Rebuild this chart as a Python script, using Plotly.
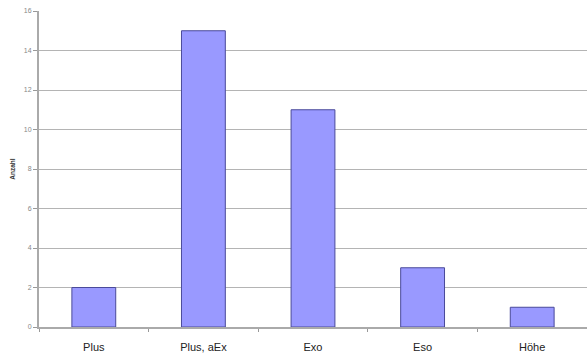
import plotly.graph_objects as go

categories = ["Plus", "Plus, aEx", "Exo", "Eso", "Höhe"]
values = [2, 15, 11, 3, 1]
y_ticks = [0, 2, 4, 6, 8, 10, 12, 14, 16]

fig = go.Figure(go.Bar(
    x=categories, y=values, width=0.4,
    marker=dict(color="#9999ff", line=dict(color="#4a4a9a", width=1)),
))

fig.update_layout(
    width=587, height=359,
    margin=dict(l=39, r=0, t=11, b=32),
    paper_bgcolor="white", plot_bgcolor="white",
    showlegend=False,
    font=dict(family="Liberation Sans, Arial, sans-serif"),
)
fig.update_xaxes(
    range=[-0.5, 4.5], tickson="boundaries", ticks="outside", ticklen=3,
    tickcolor="#999999", showline=True, linecolor="#aaaaaa", linewidth=2,
    showgrid=False, tickfont=dict(size=11, color="#222222"),
    ticklabelstandoff=9,
)
fig.update_yaxes(
    range=[0, 16], tickvals=y_ticks, ticks="outside", ticklen=4,
    tickcolor="#999999", showline=True, linecolor="#aaaaaa", linewidth=2,
    showgrid=True, gridcolor="#b4b4b4", gridwidth=1, zeroline=False,
    tickfont=dict(size=7, color="#888888"),
    title=dict(text="<b>Anzahl</b>", font=dict(size=6.5, color="#333333"), standoff=8),
)
fig.write_html("out.html")
